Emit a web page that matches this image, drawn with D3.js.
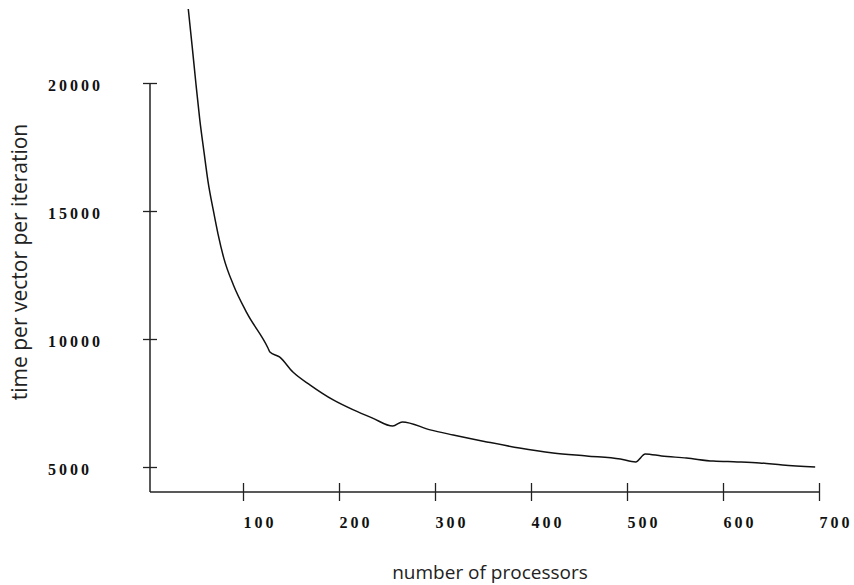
<!DOCTYPE html>
<html>
<head>
<meta charset="utf-8">
<script src="https://cdn.jsdelivr.net/npm/d3@7"></script>
<style>
body { margin: 0; background: #fff; }
.tick text { font-family: "Liberation Serif", serif; font-weight: bold; font-size: 16px; letter-spacing: 3px; fill: #111; }
.title { font-family: "Open Sans", sans-serif; fill: #222; }
</style>
</head>
<body>
<svg width="854" height="585"></svg>
<script>
// values
var processors = [43, 47, 51, 55, 59.5, 63.5, 69, 74, 80, 90, 104, 126, 128, 138, 152, 170, 194, 215, 235, 256,
    266, 295, 319, 354, 388, 423, 458, 493, 509, 519, 536, 562, 590, 615, 638, 662, 696];
var timePerVector = [22890, 21450, 19960, 18560, 17270, 16170, 15040, 14100, 13160, 12110, 11020, 9650, 9490, 9300,
    8710, 8200, 7620, 7230, 6910, 6600, 6760, 6450, 6250, 5980, 5740, 5550, 5430, 5310, 5200, 5510, 5430,
    5350, 5230, 5200, 5160, 5080, 5000];
var xTicks = [100, 200, 300, 400, 500, 600, 700];
var yTicks = [5000, 10000, 15000, 20000];

var svg = d3.select('svg');
var axisX = 150, axisY = 492;

var x = d3.scaleLinear().domain([0, 700]).range([147, 819]);
var y = d3.scaleLinear().domain([5000, 20000]).range([467, 83]);

var data = d3.zip(processors, timePerVector);

// x axis
var gx = svg.append('g')
    .attr('transform', 'translate(0,' + axisY + ')')
    .call(d3.axisBottom(x).tickValues(xTicks).tickSize(9).tickSizeOuter(0).tickFormat(d3.format('d')));
gx.select('.domain').remove();
gx.selectAll('.tick line').attr('y1', -9).attr('y2', 9).attr('stroke', '#222').attr('stroke-width', 1.3);
gx.selectAll('.tick text').attr('text-anchor', 'start').attr('y', 36).attr('dy', 0);
gx.append('line')
    .attr('x1', axisX).attr('x2', x(700))
    .attr('stroke', '#222').attr('stroke-width', 1.5);

// y axis
var gy = svg.append('g')
    .attr('transform', 'translate(' + axisX + ',0)')
    .call(d3.axisLeft(y).tickValues(yTicks).tickSize(7).tickSizeOuter(0).tickFormat(d3.format('d')));
gy.select('.domain').remove();
gy.selectAll('.tick line').attr('x1', -7).attr('x2', 7).attr('stroke', '#222').attr('stroke-width', 1.3);
gy.selectAll('.tick text').attr('text-anchor', 'start').attr('x', 48 - axisX).attr('dy', 7);
gy.append('line')
    .attr('y1', y(20000)).attr('y2', axisY)
    .attr('stroke', '#222').attr('stroke-width', 1.5);

// curve
var line = d3.line()
    .x(d => x(d[0]))
    .y(d => y(d[1]))
    .curve(d3.curveMonotoneX);

svg.append('path')
    .datum(data)
    .attr('d', line)
    .attr('fill', 'none')
    .attr('stroke', '#111')
    .attr('stroke-width', 1.5);

// titles
svg.append('text')
    .attr('class', 'title')
    .attr('x', 490)
    .attr('y', 579)
    .attr('font-size', 19)
    .attr('text-anchor', 'middle')
    .text('number of processors');

svg.append('text')
    .attr('class', 'title')
    .attr('transform', 'translate(27,262) rotate(-90)')
    .attr('font-size', 21)
    .attr('text-anchor', 'middle')
    .text('time per vector per iteration');
</script>
</body>
</html>
